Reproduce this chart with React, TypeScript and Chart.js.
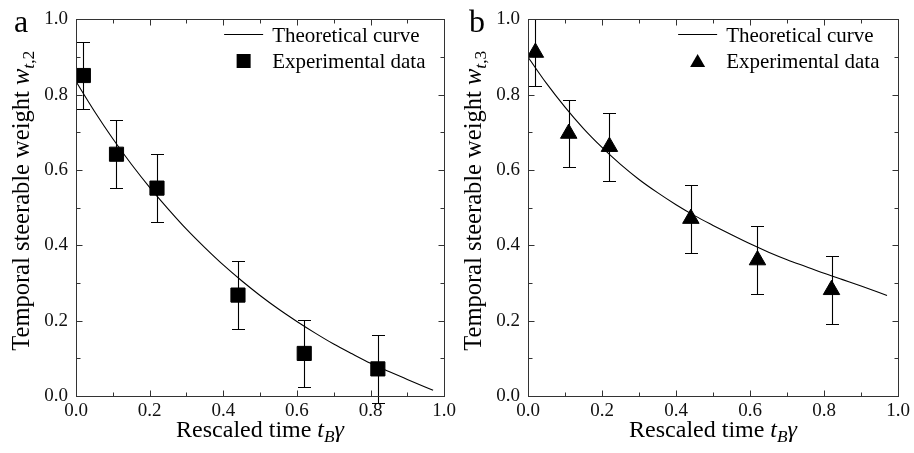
import React, { useEffect, useRef } from 'react';
import { Chart, registerables } from 'chart.js';

Chart.register(...registerables);

// ---- data ----
const timeA = [0.02, 0.11, 0.22, 0.44, 0.62, 0.82];
const weightA = [0.851, 0.642, 0.552, 0.268, 0.113, 0.072];
const errorA = [0.09, 0.09, 0.09, 0.09, 0.09, 0.09];

const timeB = [0.02, 0.11, 0.22, 0.44, 0.62, 0.82];
const weightB = [0.912, 0.697, 0.662, 0.471, 0.361, 0.282];
const errorB = [0.09, 0.09, 0.09, 0.09, 0.09, 0.09];

const curveTime = [0, 0.05, 0.1, 0.15, 0.2, 0.25, 0.3, 0.35, 0.4, 0.45, 0.5, 0.55, 0.6, 0.65, 0.7, 0.75, 0.8, 0.85, 0.9, 0.97];
const curveA = [0.835, 0.756, 0.683, 0.616, 0.554, 0.497, 0.443, 0.394, 0.348, 0.306, 0.267, 0.231, 0.198, 0.167, 0.138, 0.112, 0.087, 0.065, 0.044, 0.015];
const curveB = [0.9, 0.83, 0.767, 0.71, 0.66, 0.615, 0.575, 0.54, 0.508, 0.479, 0.453, 0.428, 0.404, 0.382, 0.362, 0.344, 0.326, 0.309, 0.292, 0.267];

const majorTicks = [0, 0.2, 0.4, 0.6, 0.8, 1.0];
const minorTicks = [0.1, 0.3, 0.5, 0.7, 0.9];

const legendLabels = ['Theoretical curve', 'Experimental data'];

const FONT = '"Liberation Serif"';

type Seg = { text: string; italic?: boolean; sub?: boolean };

function drawRich(ctx: CanvasRenderingContext2D, segs: Seg[], x: number, y: number, size: number) {
  let total = 0;
  const items = segs.map((s) => {
    const fs = s.sub ? size * 0.72 : size;
    const font = `${s.italic ? 'italic ' : ''}${fs}px ${FONT}`;
    ctx.font = font;
    const w = ctx.measureText(s.text).width;
    total += w;
    return { s, font, w, dy: s.sub ? size * 0.22 : 0 };
  });
  let cx = x - total / 2;
  ctx.textAlign = 'left';
  ctx.textBaseline = 'alphabetic';
  for (const it of items) {
    ctx.font = it.font;
    ctx.fillText(it.s.text, cx, y + it.dy);
    cx += it.w;
  }
}

const decorPlugin = {
  id: 'decor',
  beforeDatasetsDraw(chart: any, _args: any, opts: any) {
    const ctx: CanvasRenderingContext2D = chart.ctx;
    const xs = chart.scales.x;
    const ys = chart.scales.y;
    ctx.save();
    ctx.strokeStyle = '#000';
    ctx.lineWidth = 1.1;
    const t: number[] = opts.time;
    const v: number[] = opts.values;
    const e: number[] = opts.errors;
    for (let i = 0; i < t.length; i++) {
      const px = Math.round(xs.getPixelForValue(t[i])) + 0.5;
      const y1 = Math.round(ys.getPixelForValue(v[i] - e[i])) + 0.5;
      const y2 = Math.round(ys.getPixelForValue(v[i] + e[i])) + 0.5;
      ctx.beginPath();
      ctx.moveTo(px, y1);
      ctx.lineTo(px, y2);
      ctx.moveTo(px - 6.5, y1);
      ctx.lineTo(px + 6.5, y1);
      ctx.moveTo(px - 6.5, y2);
      ctx.lineTo(px + 6.5, y2);
      ctx.stroke();
    }
    ctx.restore();
  },
  afterDraw(chart: any, _args: any, opts: any) {
    const ctx: CanvasRenderingContext2D = chart.ctx;
    const { left, right, top, bottom } = chart.chartArea;
    const xs = chart.scales.x;
    const ys = chart.scales.y;
    ctx.save();
    // frame
    ctx.strokeStyle = '#333';
    ctx.lineWidth = 1;
    const L = Math.round(left) + 0.5, R = Math.round(right) + 0.5, T = Math.round(top) + 0.5, B = Math.round(bottom) + 0.5;
    ctx.strokeRect(L, T, R - L, B - T);
    // ticks
    ctx.beginPath();
    const tickSets: [number[], number][] = [[majorTicks, 6], [minorTicks, 4]];
    for (const [vals, len] of tickSets) {
      for (const val of vals) {
        const px = Math.round(xs.getPixelForValue(val)) + 0.5;
        ctx.moveTo(px, B); ctx.lineTo(px, B - len);
        ctx.moveTo(px, T); ctx.lineTo(px, T + len);
        const py = Math.round(ys.getPixelForValue(val)) + 0.5;
        ctx.moveTo(L, py); ctx.lineTo(L + len, py);
        ctx.moveTo(R, py); ctx.lineTo(R - len, py);
      }
    }
    ctx.stroke();

    ctx.fillStyle = '#000';
    // panel letter
    ctx.font = `32px ${FONT}`;
    ctx.textAlign = 'left';
    ctx.textBaseline = 'alphabetic';
    ctx.fillText(opts.letter, opts.letterX, 32);

    // x title
    drawRich(ctx, [
      { text: 'Rescaled time ' },
      { text: 't', italic: true },
      { text: 'B', italic: true, sub: true },
      { text: 'γ', italic: true },
    ], (left + right) / 2, 437, 24);

    // y title
    ctx.save();
    ctx.translate(opts.yTitleX, (top + bottom) / 2 - 7);
    ctx.rotate(-Math.PI / 2);
    drawRich(ctx, [
      { text: 'Temporal steerable weight ' },
      { text: 'w', italic: true },
      { text: 't', italic: true, sub: true },
      { text: ',' + opts.sub, sub: true },
    ], 0, 0, 24.5);
    ctx.restore();

    // legend
    const lx0 = right - 220;
    const tx = right - 172;
    ctx.strokeStyle = '#000';
    ctx.lineWidth = 1.1;
    ctx.beginPath();
    ctx.moveTo(lx0, 34.5);
    ctx.lineTo(lx0 + 39, 34.5);
    ctx.stroke();
    ctx.font = `21px ${FONT}`;
    ctx.fillText(legendLabels[0], tx, 42);
    ctx.fillText(legendLabels[1], tx, 68);
    const mx = lx0 + 19.5;
    ctx.beginPath();
    if (opts.marker === 'rect') {
      ctx.rect(mx - 7, 54, 14, 14);
    } else {
      ctx.moveTo(mx, 54);
      ctx.lineTo(mx + 7.5, 67);
      ctx.lineTo(mx - 7.5, 67);
      ctx.closePath();
    }
    ctx.fill();
    ctx.restore();
  },
};

function Panel(props: {
  width: number;
  left: number;
  axisWidth: number;
  rightPad: number;
  time: number[];
  values: number[];
  errors: number[];
  curve: number[];
  marker: 'rect' | 'triangle';
  letter: string;
  letterX: number;
  yTitleX: number;
  sub: string;
}) {
  const ref = useRef<HTMLCanvasElement | null>(null);
  useEffect(() => {
    if (!ref.current) return;
    const tickFont = { family: FONT, size: 19 };
    const chart = new Chart(ref.current, {
      type: 'scatter',
      data: {
        datasets: [
          {
            label: legendLabels[0],
            data: curveTime.map((t, i) => ({ x: t, y: props.curve[i] })),
            showLine: true,
            borderColor: '#000',
            borderWidth: 1.1,
            pointRadius: 0,
            tension: 0.4,
            cubicInterpolationMode: 'monotone',
          } as any,
          {
            label: legendLabels[1],
            data: props.time.map((t, i) => ({ x: t, y: props.values[i] })),
            pointStyle: props.marker,
            pointRadius: props.marker === 'rect' ? 10 : 9.5,
            backgroundColor: '#000',
            borderColor: '#000',
            borderWidth: 1,
          } as any,
        ],
      },
      options: {
        animation: false,
        responsive: false,
        maintainAspectRatio: false,
        events: [],
        layout: { padding: { top: 11, right: props.rightPad, left: 0, bottom: 0 } },
        plugins: {
          legend: { display: false },
          tooltip: { enabled: false },
          decor: {
            time: props.time,
            values: props.values,
            errors: props.errors,
            marker: props.marker,
            letter: props.letter,
            letterX: props.letterX,
            yTitleX: props.yTitleX,
            sub: props.sub,
          },
        } as any,
        scales: {
          x: {
            type: 'linear',
            min: 0,
            max: 1,
            grid: { display: false, drawTicks: false },
            border: { display: false },
            ticks: {
              stepSize: 0.2,
              font: tickFont,
              color: '#111',
              padding: 4,
              maxRotation: 0,
              callback: (v: any) => Number(v).toFixed(1),
            },
            afterFit: (s: any) => {
              s.height = 453 - 396;
            },
          },
          y: {
            type: 'linear',
            min: 0,
            max: 1,
            grid: { display: false, drawTicks: false },
            border: { display: false },
            ticks: {
              stepSize: 0.2,
              font: tickFont,
              color: '#111',
              padding: 8,
              callback: (v: any) => Number(v).toFixed(1),
            },
            afterFit: (s: any) => {
              s.width = props.axisWidth;
            },
          },
        },
      },
      plugins: [decorPlugin as any],
    });
    return () => chart.destroy();
  }, []);
  return (
    <canvas
      ref={ref}
      width={props.width}
      height={453}
      style={{ position: 'absolute', left: props.left, top: 0, width: props.width, height: 453 }}
    />
  );
}

export default function App() {
  useEffect(() => {
    document.body.style.margin = '0';
  }, []);
  return (
    <div style={{ position: 'absolute', left: 0, top: 0, width: 914, height: 453, background: '#fff' }}>
      <Panel
        width={460}
        left={0}
        axisWidth={76}
        rightPad={13}
        time={timeA}
        values={weightA}
        errors={errorA}
        curve={curveA}
        marker="rect"
        letter="a"
        letterX={14}
        yTitleX={29}
        sub="2"
      />
      <Panel
        width={454}
        left={460}
        axisWidth={68}
        rightPad={15}
        time={timeB}
        values={weightB}
        errors={errorB}
        curve={curveB}
        marker="triangle"
        letter="b"
        letterX={9}
        yTitleX={21}
        sub="3"
      />
    </div>
  );
}
